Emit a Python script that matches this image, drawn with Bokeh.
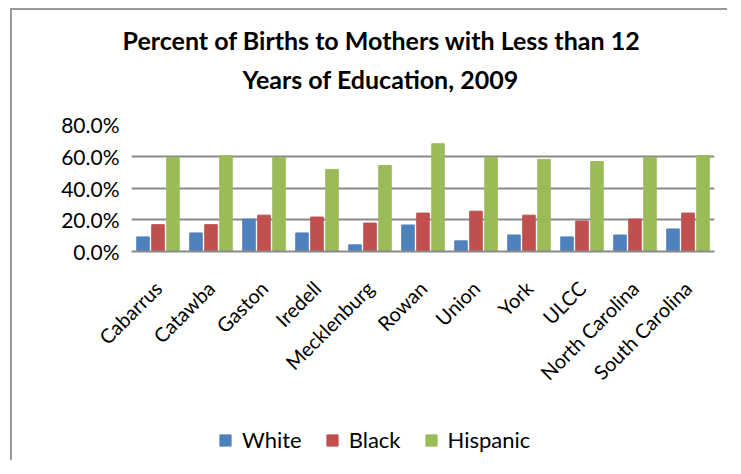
import math
from bokeh.plotting import figure
from bokeh.layouts import column
from bokeh.models import (FactorRange, Range1d, FixedTicker, PrintfTickFormatter,
                          Legend, LegendItem, Title, ColumnDataSource)
from bokeh.transform import dodge
from bokeh.embed import file_html
from bokeh.resources import INLINE

categories = ["Cabarrus", "Catawba", "Gaston", "Iredell", "Mecklenburg", "Rowan",
              "Union", "York", "ULCC", "North Carolina", "South Carolina"]
white = [9.2, 11.7, 20.4, 11.7, 4.2, 16.7, 6.7, 10.4, 9.2, 10.4, 14.2]
black = [16.9, 16.9, 22.9, 21.7, 17.9, 24.2, 25.4, 22.9, 19.2, 20.4, 24.2]
hispanic = [59.2, 60.4, 59.2, 51.7, 54.2, 67.9, 59.2, 57.9, 56.7, 59.2, 60.4]
series_cols = ["white", "black", "hispanic"]
series_names = ["White", "Black", "Hispanic"]
series_colors = ["#4F81BD", "#C0504D", "#9BBB59"]
y_ticks = [0, 20, 40, 60, 80]
title_lines = ["Percent of Births to Mothers with Less than 12", "Years of Education,  2009"]

src = ColumnDataSource(dict(cat=categories, white=white, black=black, hispanic=hispanic))

FONT = "Lato"
bw = 0.236
off = 0.283
offsets = [-off, 0, off]

p = figure(width=715, height=402, output_backend="svg", toolbar_location=None,
           x_range=FactorRange(*categories, range_padding=0), y_range=Range1d(0, 80),
           min_border_left=119, min_border_right=13, min_border_top=114, min_border_bottom=161)
p.outline_line_color = None
p.background_fill_color = "white"
p.border_fill_color = "white"

for col, dx, color in zip(series_cols, offsets, series_colors):
    p.vbar(x=dodge("cat", dx, range=p.x_range), top=col, width=bw, source=src, color=color)

p.xgrid.grid_line_color = None
p.ygrid.grid_line_color = "#8a8a8a"
p.ygrid.grid_line_width = 2
p.ygrid.ticker = FixedTicker(ticks=y_ticks)

p.yaxis.ticker = FixedTicker(ticks=y_ticks)
p.yaxis.formatter = PrintfTickFormatter(format="%.1f%%")
p.yaxis.axis_line_color = None
p.yaxis.major_tick_line_color = None
p.yaxis.minor_tick_line_color = None
p.yaxis.major_label_text_font = FONT
p.yaxis.major_label_text_font_size = "21px"
p.yaxis.major_label_text_color = "black"
p.yaxis.major_label_standoff = 6

p.xaxis.axis_line_color = "#8a8a8a"
p.xaxis.axis_line_width = 2
p.xaxis.major_tick_line_color = None
p.xaxis.minor_tick_line_color = None
p.xaxis.major_label_orientation = math.pi / 4
p.xaxis.major_label_text_font = FONT
p.xaxis.major_label_text_font_size = "20px"
p.xaxis.major_label_text_color = "black"
p.xaxis.major_label_standoff = 27

t2 = Title(text=title_lines[1], align="left", offset=111, text_font=FONT, text_font_size="25px",
           text_font_style="bold", text_color="black", standoff=62)
t1 = Title(text=title_lines[0], align="left", offset=-9, text_font=FONT, text_font_size="25px",
           text_font_style="bold", text_color="black", standoff=-48)
p.add_layout(t2, "above")
p.add_layout(t1, "above")

# legend strip: hidden copies of the three series supply the legend swatches
lg = figure(width=715, height=48, output_backend="svg", toolbar_location=None,
            x_range=p.x_range, y_range=Range1d(0, 1),
            min_border_left=0, min_border_right=0, min_border_top=0, min_border_bottom=0)
lg.axis.visible = False
lg.grid.visible = False
lg.outline_line_color = None
items = []
for col, dx, name, color in zip(series_cols, offsets, series_names, series_colors):
    r = lg.vbar(x=dodge("cat", dx, range=lg.x_range), top=col, width=bw, source=src,
                color=color, visible=False)
    items.append(LegendItem(label=name, renderers=[r]))
legend = Legend(items=items, orientation="horizontal", location=(87, 7), margin=0, padding=10,
                label_text_font=FONT, label_text_font_size="22px", label_text_color="black",
                glyph_width=14, glyph_height=14, label_standoff=10, spacing=23,
                inactive_fill_alpha=0, click_policy="none",
                border_line_color=None, background_fill_alpha=0)
lg.add_layout(legend, "center")

layout = column(p, lg, spacing=0, margin=(8, 0, 0, 10))
layout.styles = {"border-left": "2px solid #9a9a9a", "border-top": "2px solid #9a9a9a"}

open("out.html", "w").write(file_html(layout, INLINE))
